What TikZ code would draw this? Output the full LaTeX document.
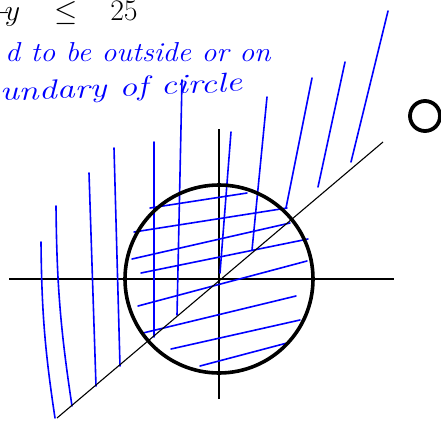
\documentclass[tikz,border=0pt]{standalone}
\usepackage{amsmath}
\usepackage{tikz}
\usetikzlibrary{calc}

\begin{document}
\begin{tikzpicture}[x=1pt, y=-1pt]
	\tikzstyle{axis_style}=[black, line width=1.2pt]
	\tikzstyle{hatch_style}=[blue, line width=1.6pt, line cap=round]
	\tikzstyle{note_style}=[blue, anchor=base west, inner sep=0pt, font=\Huge\itshape]
	\useasboundingbox (0,0) rectangle (441,420);
	% axes
	\coordinate (origin) at (219,279);
	\coordinate (x_left) at (9,279);
	\coordinate (x_right) at (394,279);
	\coordinate (y_low) at (219,399);
	\coordinate (y_high) at (219,129);
	\draw[axis_style] (x_left) -- (x_right);
	\draw[axis_style] (y_low) -- (y_high);
	% hatching outside the circle, below the line
	\draw[hatch_style] (41,242) to[bend right=4] (55,418);
	\draw[hatch_style] (56,206) to[bend right=4] (72,406);
	\foreach \xa/\ya/\xb/\yb in {89/173/96/386, 114/148/120/366, 154/142/154/337, 182/80/177/315}
		\draw[hatch_style] (\xa,\ya) -- (\xb,\yb);
	% hatching above the line
	\foreach \xa/\ya/\xb/\yb in {231/132/220/273, 267/97/252/250, 312/78/286/208, 345/62/318/187, 388/11/351/162}
		\draw[hatch_style] (\xa,\ya) -- (\xb,\yb);
	% hatching inside the circle
	\foreach \xa/\ya/\xb/\yb in {150/208/247/193, 134/232/287/208, 132/259/290/223, 141/273/308/239, 138/306/307/261, 143/333/296/296, 171/349/300/320, 200/366/287/343}
		\draw[hatch_style] (\xa,\ya) -- (\xb,\yb);
	% boundary circle
	\draw[line width=3.6pt] (origin) circle (94);
	% line through the origin
	\coordinate (diag_low) at (57,418);
	\coordinate (diag_high) at (383,142);
	\draw[line width=1.1pt] (diag_low) -- (diag_high);
	% dot on the right
	\draw[line width=3.8pt] (425,116) circle (15);
	% texts
	\node[anchor=base west, inner sep=0pt, font=\Huge, scale=1.2, transform shape] (ineq) at (-12,21) {$+\!y\hspace{22pt}\leq\hspace{20pt}25$};
	\node[note_style, xscale=1.2, yscale=1.1, transform shape] (note_a) at (5,62) {d to be outside or on};
	\node[note_style, xscale=1.45, yscale=1.1, rotate=3, transform shape] (note_b) at (0,101) {undary of circle};
\end{tikzpicture}
\end{document}
